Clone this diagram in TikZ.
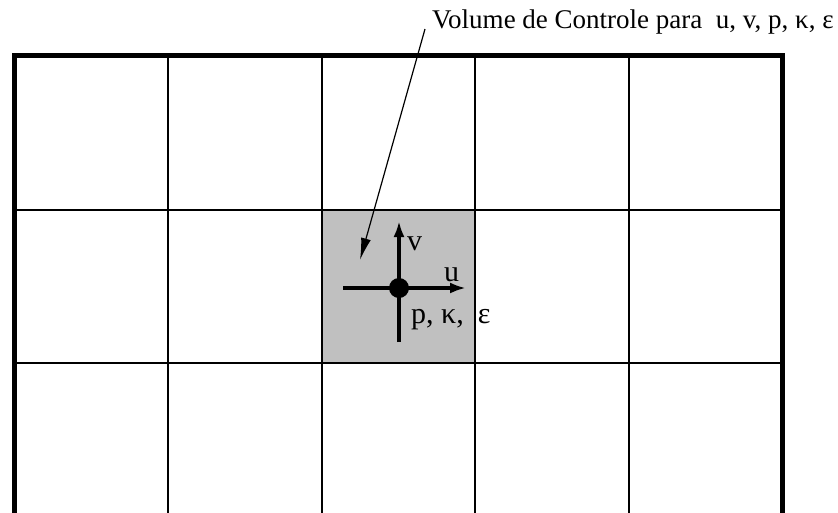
\documentclass[tikz,border=0pt]{standalone}
\usepackage{fontspec}
\setmainfont{Liberation Serif}
\usetikzlibrary{arrows.meta}
\definecolor{cvgray}{HTML}{C0C0C0}
\tikzset{
  gridln/.style={line width=2pt},
  frame/.style={line width=5pt},
  vel/.style={-{Latex[length=16pt,width=11pt]}, line width=4pt},
  lead/.style={-{Latex[length=22pt,width=10pt]}, line width=1.2pt},
  lbl/.style={font=\fontsize{30}{30}\selectfont, inner sep=0pt, anchor=base west}
}

\begin{document}
\begin{tikzpicture}[x=1pt,y=-1pt]
\useasboundingbox (0,0) rectangle (838,512);
\clip (0,0) rectangle (838,512);
% volume de controle (celula central)
\fill[cvgray] (322,210) rectangle (475,363);
% malha
\foreach \x in {168,322,475,629}
  \draw[gridln] (\x,55) -- (\x,530);
\foreach \y in {210,363}
  \draw[gridln] (14.5,\y) -- (782,\y);
\draw[frame] (14.5,540) -- (14.5,55) -- (782,55) -- (782,540);
% variaveis no no
\node[circle, fill, inner sep=0pt, minimum size=20pt] (P) at (399,288) {};
\coordinate (uW) at (343,288);
\coordinate (uE) at (466,288);
\coordinate (vS) at (399,342);
\coordinate (vN) at (399,221);
\draw[vel] (uW) -- (uE);
\draw[vel] (vS) -- (vN);
\node[lbl] (vlab) at (407,250) {v};
\node[lbl] (ulab) at (444,281) {u};
\node[lbl] (plab) at (411,323) {p, κ,\hspace{14pt}ε};
% legenda
\node[lbl, font=\fontsize{27}{27}\selectfont] (cv) at (432,28) {Volume de Controle para\ \ u, v, p, κ, ε};
\coordinate (cvstart) at (425,29);
\coordinate (cvtip) at (360,260);
\draw[lead] (cvstart) -- (cvtip);
\end{tikzpicture}
\end{document}
